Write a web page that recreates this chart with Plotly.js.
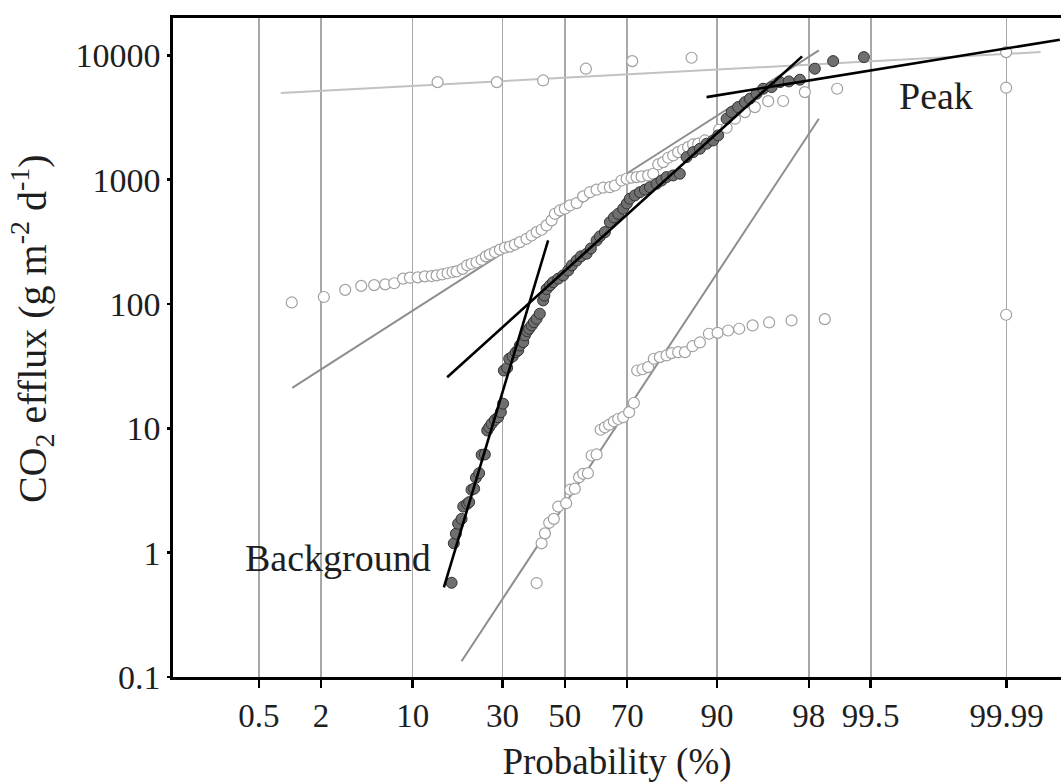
<!DOCTYPE html>
<html>
<head>
<meta charset="utf-8">
<script src="https://cdn.plot.ly/plotly-3.0.1.min.js"></script>
<style>html,body{margin:0;padding:0;background:#fff;}#chart{width:1061px;height:783px;}</style>
</head>
<body>
<div id="chart"></div>
<script>
// Probability axis: tick labels (%) ; x data are standard normal scores of the plotting positions
const tickProb = [0.5, 2, 10, 30, 50, 70, 90, 98, 99.5, 99.99];
const tickText = ["0.5", "2", "10", "30", "50", "70", "90", "98", "99.5", "99.99"];

// Open circles, middle population (normal score, CO2 efflux g m-2 d-1)
const openMidZ = [-2.30,-2.03,-1.85,-1.715,-1.606,-1.513,-1.437,-1.362,-1.305,-1.240,-1.179,-1.122,-1.080,-1.033,-0.988,-0.946,-0.912,-0.861,-0.823,-0.786,-0.744,-0.701,-0.665,-0.632,-0.589,-0.547,-0.505,-0.463,-0.421,-0.379,-0.323,-0.280,-0.238,-0.196,-0.154,-0.112,-0.084,-0.042,0,0.042,0.099,0.154,0.211,0.267,0.323,0.379,0.421,0.477,0.520,0.562,0.604,0.646,0.701,0.744,0.786,0.828,0.870,0.912,0.954,0.996,1.038,1.080,1.123,1.179,1.299,1.362,1.432,1.516,1.600,1.712,1.838,2.021,2.293,3.716];
const openMidFlux = [103,114,130,140,142,144,147,160,163,164,167,168,170,173,177,181,183,192,205,211,217,227,242,251,262,274,284,290,301,315,335,356,379,396,429,471,532,566,585,621,649,735,794,832,863,871,899,986,1018,1038,1050,1064,1083,1117,1327,1386,1503,1568,1667,1742,1829,1923,1950,2070,2525,2620,3097,3499,3838,4285,4300,5070,5395,5500];

// Open circles, high population
const openHighZ = [-1.072,-0.573,-0.183,0.177,0.567,1.067,3.716];
const openHighFlux = [6100,6100,6290,7820,9000,9580,10630];

// Open circles, low population
const openLowZ = [-0.238,-0.196,-0.168,-0.132,-0.093,-0.056,0.011,0.045,0.084,0.120,0.154,0.194,0.225,0.267,0.301,0.337,0.373,0.413,0.449,0.491,0.541,0.581,0.609,0.654,0.701,0.749,0.800,0.856,0.899,0.954,1.011,1.075,1.137,1.213,1.286,1.375,1.468,1.581,1.720,1.909,2.189,3.716];
const openLowFlux = [0.57,1.19,1.43,1.74,1.87,2.35,2.50,3.21,3.27,4.05,4.31,4.36,6.05,6.17,9.75,10.2,10.7,11.4,11.9,12.3,13.5,16.0,29.2,29.9,31.1,36.3,37.4,38.6,40.3,41.0,41.0,45.8,49.1,57.7,58.7,61.3,63.3,67.3,71.1,73.8,75.6,82.0];

// Filled circles
const filledZ = [-0.954,-0.935,-0.918,-0.899,-0.870,-0.856,-0.823,-0.806,-0.786,-0.764,-0.749,-0.722,-0.701,-0.674,-0.654,-0.637,-0.617,-0.589,-0.562,-0.539,-0.520,-0.514,-0.486,-0.469,-0.440,-0.413,-0.393,-0.379,-0.351,-0.337,-0.317,-0.301,-0.280,-0.261,-0.238,-0.211,-0.183,-0.173,-0.154,-0.126,-0.099,-0.056,-0.014,0.028,0.059,0.099,0.135,0.183,0.219,0.267,0.295,0.337,0.379,0.413,0.449,0.491,0.522,0.547,0.589,0.632,0.674,0.716,0.772,0.814,0.856,0.912,0.968,1.025,1.080,1.137,1.193,1.249,1.291,1.362,1.404,1.459,1.516,1.558,1.614,1.670,1.741,1.811,1.886,1.979,2.105,2.259,2.518];
const filledFlux = [0.573,1.19,1.42,1.71,1.87,2.35,2.47,2.55,3.21,3.27,4.01,4.36,6.13,6.17,9.62,10.2,10.9,11.7,12.3,13.5,15.8,29.2,30.7,36.3,37.9,41.0,42.4,46.4,49.4,55.9,60.5,63.3,67.3,71.5,76.2,83.6,107,117,132,141,150,160,170,186,205,224,242,254,280,325,350,379,456,498,532,585,644,703,748,794,832,871,929,986,1050,1083,1117,1520,1667,1776,1950,2070,2272,3097,3499,3838,4207,4487,4920,5395,5560,6100,6180,6380,7820,9000,9690];

// Fitted population lines (end points: normal score, flux)
const bgFitZ = [-1.019, -0.141],  bgFitFlux = [0.527, 325];
const midFitZ = [-0.991, 1.998],  midFitFlux = [25.8, 9820];
const peakFitZ = [1.193, 4.168],  peakFitFlux = [4620, 13370];
const openMidFitZ = [-2.296, 2.139], openMidFitFlux = [21.2, 10970];
const openHighFitZ = [-2.392, 4.006], openHighFitFlux = [4977, 10630];
const openLowFitZ = [-0.870, 2.139], openLowFitFlux = [0.134, 3097];

const yTickVals = [0.1, 1, 10, 100, 1000, 10000];
const yTickText = ["0.1", "1", "10", "100", "1000", "10000"];
const yMinorMult = [2, 3, 4, 5, 6, 7, 8, 9];

// inverse standard normal CDF (Acklam)
function probit(p) {
  const a=[-3.969683028665376e+01,2.209460984245205e+02,-2.759285104469687e+02,1.383577518672690e+02,-3.066479806614716e+01,2.506628277459239e+00];
  const b=[-5.447609879822406e+01,1.615858368580409e+02,-1.556989798598866e+02,6.680131188771972e+01,-1.328068155288572e+01];
  const c=[-7.784894002430293e-03,-3.223964580411365e-01,-2.400758277161838e+00,-2.549732539343734e+00,4.374664141464968e+00,2.938163982698783e+00];
  const d=[7.784695709041462e-03,3.224671290700398e-01,2.445134137142996e+00,3.754408661907416e+00];
  const pl=0.02425, ph=1-pl;
  let q, r;
  if (p < pl) { q=Math.sqrt(-2*Math.log(p)); return (((((c[0]*q+c[1])*q+c[2])*q+c[3])*q+c[4])*q+c[5])/((((d[0]*q+d[1])*q+d[2])*q+d[3])*q+1); }
  if (p <= ph) { q=p-0.5; r=q*q; return (((((a[0]*r+a[1])*r+a[2])*r+a[3])*r+a[4])*r+a[5])*q/(((((b[0]*r+b[1])*r+b[2])*r+b[3])*r+b[4])*r+1); }
  q=Math.sqrt(-2*Math.log(1-p)); return -(((((c[0]*q+c[1])*q+c[2])*q+c[3])*q+c[4])*q+c[5])/((((d[0]*q+d[1])*q+d[2])*q+d[3])*q+1);
}
const tickZ = tickProb.map(p => probit(p/100));

const FONT = "Liberation Serif, Times New Roman, serif";
const TXT = "#1e1e1e";
const W = 1061, H = 783;
const M = {l: 173, r: 0, t: 18, b: 106};
const PW = W - M.l - M.r, PH = H - M.t - M.b;
const X_RANGE = [-3.30, 4.178];
const Y_RANGE = [-1, Math.log10(20000)];
const xPerPx = (X_RANGE[1] - X_RANGE[0]) / PW;
const yPerPx = (Y_RANGE[1] - Y_RANGE[0]) / PH;

const openMarker = {symbol:"circle", size:11, color:"#ffffff", line:{color:"#a0a0a0", width:1.2}};
const filledMarker = {symbol:"circle", size:11, color:"#6f6f6f", line:{color:"#333333", width:1}};

function line(x, y, color, width) {
  return {x:x, y:y, type:"scatter", mode:"lines", line:{color:color, width:width}, hoverinfo:"skip", showlegend:false};
}
function pts(x, y, marker) {
  return {x:x, y:y, type:"scatter", mode:"markers", marker:marker, showlegend:false, cliponaxis:false};
}

// outside tick marks, drawn as line-shaped markers at the axis tick values (just outside the axes)
const yMinorVals = [];
yTickVals.forEach(v => yMinorMult.forEach(m => { if (Math.log10(v * m) <= Y_RANGE[1] + 1e-9) yMinorVals.push(v * m); }));
function tickTrace(x, y, symbol, size, width) {
  return {x: x, y: y, type: "scatter", mode: "markers", cliponaxis: false, hoverinfo: "skip", showlegend: false,
          marker: {symbol: symbol, size: size, color: "#000", line: {color: "#000", width: width}}};
}
const yMajorX = X_RANGE[0] - 6.5 * xPerPx;
const yMinorX = X_RANGE[0] - 3.5 * xPerPx;
const xTickY = Math.pow(10, Y_RANGE[0] - 6.5 * yPerPx);

const data = [
  line(openHighFitZ, openHighFitFlux, "#c2c2c2", 2),
  line(openMidFitZ, openMidFitFlux, "#8e8e8e", 2),
  line(openLowFitZ, openLowFitFlux, "#8e8e8e", 2),
  pts(openHighZ, openHighFlux, openMarker),
  pts(openMidZ, openMidFlux, openMarker),
  pts(openLowZ, openLowFlux, openMarker),
  pts(filledZ, filledFlux, filledMarker),
  line(bgFitZ, bgFitFlux, "#000000", 2.6),
  line(midFitZ, midFitFlux, "#000000", 2.6),
  line(peakFitZ, peakFitFlux, "#000000", 2.6),
  tickTrace(yTickVals.map(() => yMajorX), yTickVals, "line-ew", 13, 2.5),
  tickTrace(yMinorVals.map(() => yMinorX), yMinorVals, "line-ew", 7, 2),
  tickTrace(tickZ, tickZ.map(() => xTickY), "line-ns", 13, 2.5)
];

const layout = {
  width: W, height: H,
  margin: M,
  paper_bgcolor: "#ffffff", plot_bgcolor: "#ffffff",
  showlegend: false,
  font: {family: FONT, color: TXT, size: 33},
  xaxis: {
    type: "linear", range: X_RANGE, autorange: false,
    tickmode: "array", tickvals: tickZ, ticktext: tickText,
    ticks: "outside", ticklen: 8, tickwidth: 2.5, tickcolor: "#000",
    showgrid: true, gridcolor: "#a8a8a8", gridwidth: 1.6,
    zeroline: false,
    showline: true, linecolor: "#000", linewidth: 2.6, mirror: true,
    tickfont: {family: FONT, size: 33, color: TXT},
    title: {text: "Probability (%)", font: {family: FONT, size: 37, color: TXT}, standoff: 18}
  },
  yaxis: {
    type: "log", range: Y_RANGE, autorange: false,
    tickmode: "array", tickvals: yTickVals, ticktext: yTickText,
    ticks: "outside", ticklen: 3, tickwidth: 2.5, tickcolor: "#000",
    showgrid: false, zeroline: false,
    showline: true, linecolor: "#000", linewidth: 2.6,
    tickfont: {family: FONT, size: 34, color: TXT}
  },
  annotations: [
    {x: -0.158, y: 0.529, xref: "paper", yref: "paper", textangle: -90,
     text: "CO<sub>2</sub> efflux (g m<sup>-2</sup> d<sup>-1</sup>)", showarrow: false,
     xanchor: "center", yanchor: "middle", font: {family: FONT, size: 40, color: TXT}},
    {x: 3.124, y: Math.log10(4680), xref: "x", yref: "y", text: "Peak", showarrow: false,
     xanchor: "center", yanchor: "middle", font: {family: FONT, size: 38, color: TXT}},
    {x: -1.912, y: Math.log10(0.90), xref: "x", yref: "y", text: "Background", showarrow: false,
     xanchor: "center", yanchor: "middle", font: {family: FONT, size: 38, color: TXT}}
  ]
};

Plotly.newPlot("chart", data, layout, {displayModeBar: false, staticPlot: true});
</script>
</body>
</html>
